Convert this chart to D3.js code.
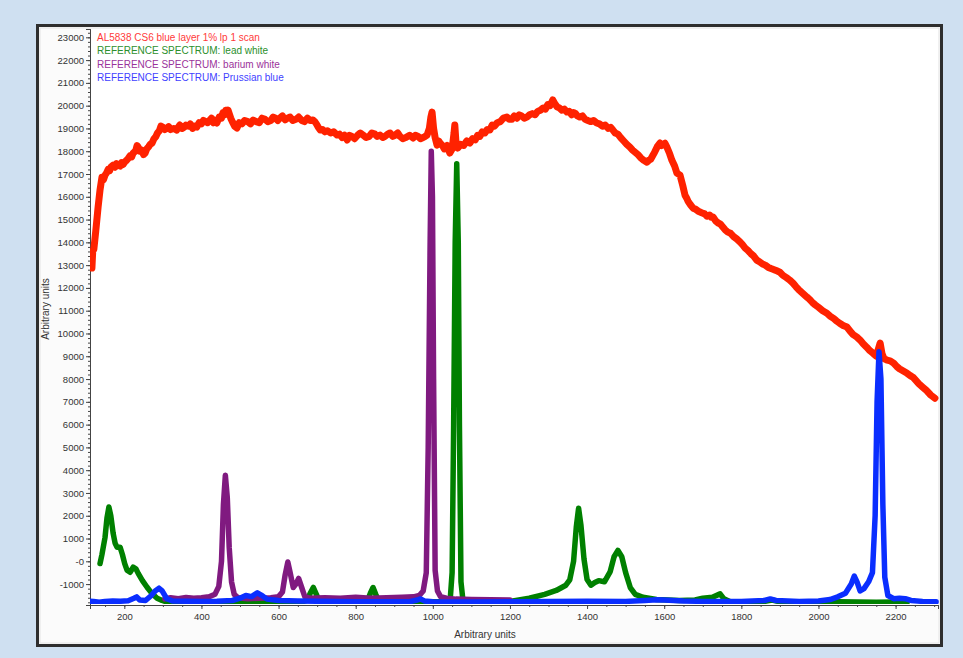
<!DOCTYPE html>
<html><head><meta charset="utf-8">
<script src="https://cdn.jsdelivr.net/npm/d3@7"></script>
<style>
html,body{margin:0;padding:0;background:#cfe0f1;}
svg{display:block;}
text{font-family:"Liberation Sans",Arial,sans-serif;}
</style></head><body>
<svg id="chart" width="963" height="658"></svg>
<script>
// ---------- DATA ----------
const seriesNames = [
  "AL5838 CS6 blue layer 1% lp 1 scan",
  "REFERENCE SPECTRUM: lead white",
  "REFERENCE SPECTRUM: barium white",
  "REFERENCE SPECTRUM: Prussian blue"
];
const sampleScan = [
[116,12870],[118,13600],[121,13700],[126,14500],[132,15550],[137,16300],[142,16860],[146,16750],[150,16950],[154,17050],[158,17200],[162,17150],[165,17300],
[171,17390],[176,17300],[180,17450],[185,17380],[189,17350],[193,17500],[197,17420],[202,17550],[206,17600],[211,17700],[215,17800],[219,17750],[223,17920],[227,17980],[230,18050],[233,18250],[236,18180],[240,18000],[245,18050],
[250,17850],[254,17920],[258,18100],[263,18200],[267,18300],[272,18360],[277,18550],[282,18650],[286,18800],[291,18900],[295,19100],[300,19060],[305,18950],[310,19000],[315,19080],[320,18950],[328,19000],[336,18930],[340,19050],[344,19150],
[350,19000],[355,19050],[360,19150],[366,19100],[371,19200],[377,19000],[382,19100],[388,19060],[394,19250],[400,19200],[405,19350],[411,19300],[416,19250],[422,19370],[426,19450],[431,19250],[435,19350],[440,19240],[446,19500],[452,19450],
[456,19700],[460,19600],[463,19800],[466,19720],[469,19800],[472,19650],[476,19450],[480,19300],[486,19100],[492,19020],[498,19250],[505,19200],[512,19350],[520,19300],[527,19200],[534,19370],[542,19300],[550,19250],[557,19450],[565,19400],
[572,19300],[580,19350],[586,19500],[592,19450],[598,19350],[604,19460],[610,19550],[617,19380],[623,19450],[630,19500],[637,19350],[645,19400],[652,19500],[660,19350],[667,19300],[675,19450],[682,19350],[689,19370],[694,19300],[698,19200],
[703,19050],[708,18930],[714,18950],[720,18850],[727,18900],[735,18800],[743,18850],[752,18710],[758,18750],[765,18600],[771,18700],[778,18490],[784,18700],[790,18650],[797,18550],[805,18700],[812,18800],[819,18710],[827,18600],[835,18650],
[842,18800],[850,18750],[856,18650],[863,18710],[870,18600],[876,18650],[883,18750],[889,18800],[896,18650],[902,18700],[909,18800],[915,18650],[922,18550],[930,18600],[940,18700],[949,18580],[955,18700],[962,18650],[968,18550],[975,18600],
[980,18650],[985,18710],[991,19000],[995,19500],[998,19720],[1002,19000],[1006,18600],[1011,18270],[1015,18450],[1019,18360],[1025,18250],[1030,18100],[1037,18250],[1044,17920],
[1050,18100],[1055,18800],[1057,19150],[1060,18400],[1065,18140],[1072,18300],[1080,18250],[1088,18450],[1096,18360],[1103,18550],[1110,18500],[1116,18700],[1122,18650],[1128,18850],[1135,18800],[1141,18950],
[1148,18930],[1154,19150],[1160,19100],[1167,19250],[1175,19300],[1183,19450],[1192,19500],[1198,19400],[1205,19400],[1211,19550],[1218,19450],[1224,19600],[1230,19550],[1237,19450],[1244,19500],[1251,19600],[1258,19650],[1265,19600],[1272,19750],
[1279,19800],[1286,19900],[1292,19850],[1298,20050],[1304,20000],[1311,20250],[1316,20100],[1322,19950],[1328,19900],[1335,19800],[1341,19850],[1348,19720],[1354,19750],[1360,19600],[1365,19700],[1370,19650],[1375,19550],[1381,19500],[1388,19550],[1395,19400],
[1402,19350],[1410,19300],[1417,19350],[1425,19240],[1432,19200],[1440,19100],[1447,19150],[1455,19000],[1461,19050],[1467,18930],[1473,18800],[1480,18750],[1487,18600],[1495,18450],[1503,18300],[1511,18180],[1518,18050],[1525,17950],[1532,17850],[1540,17700],
[1547,17600],[1555,17520],[1560,17600],[1565,17650],[1570,17800],[1575,17950],[1582,18200],[1589,18360],[1593,18250],[1597,18300],[1602,18350],[1607,18180],[1614,17900],[1620,17600],[1627,17350],[1633,17040],[1641,16950],[1648,16500],
[1654,16070],[1658,15950],[1662,15800],[1668,15650],[1675,15500],[1682,15450],[1690,15350],[1697,15300],[1705,15250],[1711,15150],[1718,15200],[1722,15100],[1727,15110],[1733,14950],[1740,14850],[1746,14800],[1752,14670],[1758,14550],[1765,14450],
[1772,14400],[1780,14250],[1788,14150],[1797,14010],[1803,13900],[1810,13750],[1817,13650],[1825,13500],[1832,13400],[1840,13220],[1847,13150],[1855,13050],[1862,13000],[1870,12900],[1877,12850],[1885,12800],[1892,12750],[1900,12690],[1908,12550],[1917,12450],
[1925,12350],[1934,12210],[1942,12050],[1950,11900],[1960,11750],[1970,11600],[1977,11500],[1985,11350],[1992,11250],[2000,11150],[2011,11000],[2022,10890],[2031,10750],[2040,10650],[2047,10550],[2055,10450],[2064,10350],[2074,10280],[2082,10100],[2090,9950],
[2099,9850],[2108,9710],[2116,9550],[2125,9400],[2133,9250],[2141,9140],[2150,9000],[2156,9350],[2160,9580],[2165,9100],[2170,8900],[2178,8830],[2186,8800],[2195,8700],
[2203,8550],[2210,8450],[2220,8350],[2230,8250],[2238,8150],[2245,8080],[2252,7950],[2260,7800],[2270,7650],[2280,7500],[2291,7300],[2302,7160]
];
const leadWhite = [
[137,-100],[142,300],[150,1050],[155,1900],[160,2380],[165,2000],[171,1230],[176,800],[181,620],[189,620],
[195,300],[201,-100],[207,-390],[215,-480],[223,-260],[230,-330],[236,-530],[247,-850],[259,-1140],[272,-1420],
[285,-1620],[298,-1720],[311,-1790],[330,-1810],[400,-1820],[500,-1820],[600,-1810],[660,-1790],[675,-1700],[682,-1400],
[690,-1150],[698,-1450],[705,-1750],[780,-1790],[830,-1750],[838,-1400],[845,-1150],[852,-1450],[860,-1760],[950,-1780],
[1000,-1780],[1030,-1770],[1045,-1700],[1050,-500],[1054,6000],[1058,14000],[1062,17450],[1066,14000],[1069,6000],[1073,-900],
[1078,-1700],[1085,-1780],[1150,-1790],[1200,-1760],[1250,-1620],[1290,-1450],[1320,-1280],[1345,-1050],[1355,-820],[1365,0],
[1372,1500],[1378,2330],[1384,1600],[1392,100],[1400,-800],[1410,-1050],[1420,-930],[1430,-850],[1445,-900],[1460,-450],
[1470,200],[1480,480],[1490,200],[1500,-500],[1512,-1150],[1525,-1450],[1545,-1580],[1580,-1680],[1640,-1720],[1680,-1700],
[1700,-1620],[1725,-1580],[1745,-1430],[1755,-1650],[1770,-1760],[1850,-1790],[1880,-1700],[1900,-1780],[2000,-1800],[2050,-1780],
[2100,-1790],[2150,-1800],[2200,-1790],[2230,-1800]
];
const bariumWhite = [
[305,-1650],[320,-1600],[340,-1640],[360,-1590],[380,-1620],[400,-1600],[420,-1560],[435,-1450],[445,-1100],[452,0],
[457,2500],[462,3780],[467,2800],[472,600],[478,-900],[485,-1450],[495,-1600],[520,-1640],[550,-1620],[580,-1600],
[600,-1550],[610,-1350],[617,-600],[624,-30],[630,-500],[638,-1150],[645,-1000],[652,-750],[660,-1150],[668,-1550],
[680,-1620],[720,-1600],[760,-1620],[800,-1580],[840,-1620],[880,-1600],[920,-1580],[950,-1560],[965,-1500],[975,-1300],
[983,-500],[988,5000],[993,14000],[996,18000],[999,16000],[1002,8000],[1006,-400],[1012,-1300],[1020,-1550],[1035,-1620],
[1060,-1660],[1100,-1680],[1150,-1690],[1200,-1700]
];
const prussianBlue = [
[111,-1750],[120,-1760],[135,-1800],[150,-1760],[170,-1740],[190,-1750],[210,-1730],[225,-1620],[232,-1560],[240,-1700],
[255,-1720],[270,-1500],[280,-1300],[290,-1180],[298,-1300],[310,-1640],[325,-1740],[360,-1750],[400,-1760],[440,-1750],
[480,-1720],[500,-1620],[515,-1500],[530,-1550],[545,-1380],[555,-1480],[570,-1660],[600,-1720],[650,-1740],[700,-1750],
[750,-1760],[800,-1770],[850,-1780],[900,-1780],[940,-1770],[960,-1700],[968,-1650],[978,-1740],[1000,-1780],[1100,-1790],
[1200,-1780],[1300,-1760],[1400,-1750],[1500,-1760],[1550,-1720],[1580,-1690],[1600,-1700],[1650,-1740],[1700,-1760],[1800,-1760],
[1860,-1720],[1875,-1650],[1890,-1720],[1950,-1760],[2000,-1740],[2030,-1680],[2050,-1560],[2070,-1400],[2085,-1000],[2093,-650],
[2100,-900],[2108,-1300],[2118,-1200],[2130,-900],[2140,-500],[2147,2000],[2152,7000],[2157,9200],[2162,8000],[2167,2500],
[2172,-700],[2180,-1500],[2195,-1640],[2210,-1620],[2225,-1640],[2240,-1720],[2270,-1760],[2305,-1780]
];
const yTickValues = [23000,22000,21000,20000,19000,18000,17000,16000,15000,14000,13000,12000,11000,10000,9000,8000,7000,6000,5000,4000,3000,2000,1000,0,-1000];
const yTickLabels = ["23000","22000","21000","20000","19000","18000","17000","16000","15000","14000","13000","12000","11000","10000","9000","8000","7000","6000","5000","4000","3000","2000","1000","-0","-1000"];
const xTickValues = [200,400,600,800,1000,1200,1400,1600,1800,2000,2200];
const xTitle = "Arbitrary units";
const yTitle = "Arbitrary units";

// ---------- LAYOUT ----------
const svg = d3.select("#chart");
const plot = {left:90, right:938, top:29, bottom:605};
const x = d3.scaleLinear().domain([111,2310]).range([plot.left, plot.right]);
const y = d3.scaleLinear().domain([-1918,23365]).range([plot.bottom, plot.top]);

// frame
svg.append("rect").attr("x",37.5).attr("y",25.5).attr("width",904).attr("height",620)
  .attr("fill","#fbfbfb").attr("stroke","#2e2e2e").attr("stroke-width",3);
svg.append("rect").attr("x",40).attr("y",28).attr("width",899).attr("height",615)
  .attr("fill","none").attr("stroke","#e4e4e4").attr("stroke-width",1);
svg.append("rect").attr("x",plot.left).attr("y",plot.top).attr("width",plot.right-plot.left).attr("height",plot.bottom-plot.top)
  .attr("fill","#ffffff");

svg.append("defs").append("clipPath").attr("id","clip")
  .append("rect").attr("x",plot.left).attr("y",plot.top-2).attr("width",plot.right-plot.left+2).attr("height",plot.bottom-plot.top+1);

// axes
const yAxisMinor = d3.axisLeft(y).tickValues(d3.range(-1800,23400,200)).tickSize(2).tickFormat("");
const yAxisMajor = d3.axisLeft(y).tickValues(yTickValues).tickSize(4).tickPadding(2)
  .tickFormat((d,i)=>yTickLabels[i]);
const xAxisMinor = d3.axisBottom(x).tickValues(d3.range(150,2310,50)).tickSize(2).tickFormat("");
const xAxisMajor = d3.axisBottom(x).tickValues(xTickValues).tickSize(4).tickPadding(4).tickFormat(d3.format("d"));

function styleAxis(g){
  g.select(".domain").attr("stroke","#444");
  g.selectAll(".tick line").attr("stroke","#444");
  g.selectAll(".tick text").attr("fill","#333").style("font-size","9.5px").style("font-family","Liberation Sans, Arial, sans-serif");
}
svg.append("g").attr("transform",`translate(${plot.left},0)`).call(yAxisMinor).call(styleAxis);
svg.append("g").attr("transform",`translate(${plot.left},0)`).call(yAxisMajor).call(styleAxis);
svg.append("g").attr("transform",`translate(0,${plot.bottom})`).call(xAxisMinor).call(styleAxis);
svg.append("g").attr("transform",`translate(0,${plot.bottom})`).call(xAxisMajor).call(styleAxis);

// titles
svg.append("text").attr("x",485).attr("y",638).attr("text-anchor","middle")
  .attr("fill","#333").style("font-size","10px").text(xTitle);
svg.append("text").attr("transform","translate(49,309) rotate(-90)").attr("text-anchor","middle")
  .attr("fill","#333").style("font-size","10px").text(yTitle);

// lines
const line = d3.line().x(d=>x(d[0])).y(d=>y(d[1]));
const series = [
  {data:sampleScan, color:"#ff2200", w:7},
  {data:leadWhite, color:"#008000", w:5.5},
  {data:bariumWhite, color:"#801a80", w:5.5},
  {data:prussianBlue, color:"#0a2eff", w:5.5}
];
const gLines = svg.append("g").attr("clip-path","url(#clip)");
series.forEach(s=>{
  gLines.append("path").datum(s.data).attr("d",line)
    .attr("fill","none").attr("stroke",s.color).attr("stroke-width",s.w)
    .attr("stroke-linejoin","round").attr("stroke-linecap","round");
});

// legend
const legendColors = ["#ff3a3a","#2c8f2c","#9b339b","#3f3fff"];
seriesNames.forEach((n,i)=>{
  svg.append("text").attr("x",97).attr("y",40.5+i*13.5).attr("fill",legendColors[i])
    .style("font-size","10px").text(n);
});
</script>
</body></html>
